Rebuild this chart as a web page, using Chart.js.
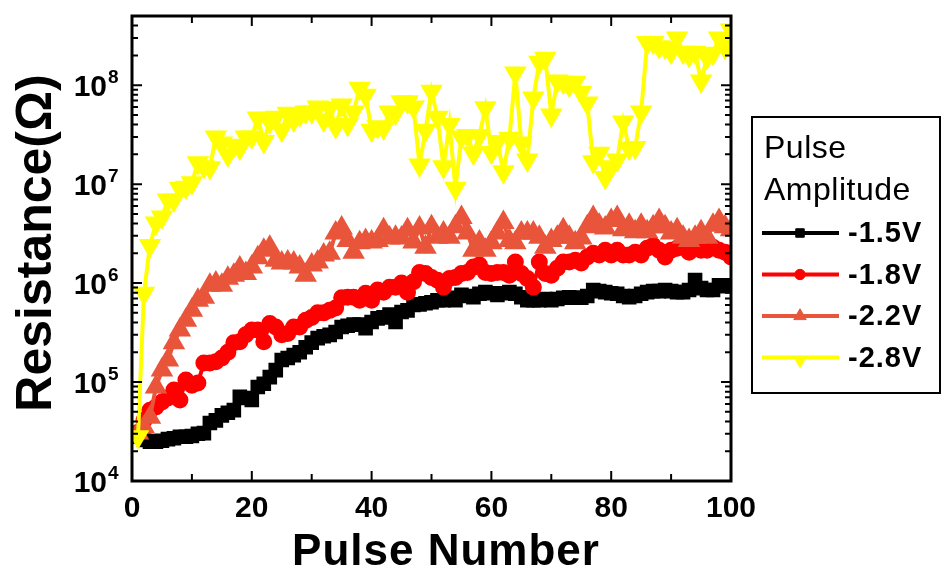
<!DOCTYPE html>
<html>
<head>
<meta charset="utf-8">
<script src="https://cdn.jsdelivr.net/npm/chart.js@4.4.1/dist/chart.umd.min.js"></script>
<style>
  html, body { margin: 0; padding: 0; background: #fff; }
</style>
</head>
<body>
<canvas id="chart" width="942" height="577"></canvas>
<script>
// pulse number (x) and resistance in ohm for each pulse amplitude
const pulses = [1,2,3,4,5,6,7,8,9,10,11,12,13,14,15,16,17,18,19,20,
  21,22,23,24,25,26,27,28,29,30,31,32,33,34,35,36,37,38,39,40,
  41,42,43,44,45,46,47,48,49,50,51,52,53,54,55,56,57,58,59,60,
  61,62,63,64,65,66,67,68,69,70,71,72,73,74,75,76,77,78,79,80,
  81,82,83,84,85,86,87,88,89,90,91,92,93,94,95,96,97,98,99,100];

const res15 = [2.8e4,2.6e4,2.5e4,2.5e4,2.55e4,2.65e4,2.7e4,2.8e4,2.8e4,2.85e4,
  3.0e4,3.05e4,3.85e4,4.1e4,4.6e4,4.9e4,5.2e4,7.1e4,6.9e4,6.6e4,
  8.9e4,9.6e4,1.12e5,1.32e5,1.67e5,1.75e5,1.87e5,2.0e5,2.25e5,2.5e5,
  2.78e5,2.9e5,3.0e5,3.2e5,3.6e5,3.7e5,3.8e5,3.8e5,3.5e5,4.05e5,
  4.4e5,4.5e5,4.8e5,4.05e5,5.1e5,5.3e5,6.0e5,6.1e5,6.25e5,6.4e5,
  6.7e5,6.7e5,7.1e5,6.7e5,7.6e5,7.4e5,7.2e5,7.8e5,8.1e5,7.9e5,
  7.6e5,7.9e5,8.1e5,7.8e5,7.2e5,6.7e5,6.7e5,6.7e5,6.9e5,6.7e5,
  6.9e5,7.1e5,7.2e5,7.1e5,7.1e5,7.4e5,8.5e5,8.3e5,8.1e5,7.9e5,
  7.8e5,7.4e5,7.2e5,7.4e5,7.8e5,8.1e5,8.3e5,8.3e5,8.5e5,8.3e5,
  8.1e5,8.1e5,8.5e5,1.07e6,8.9e5,8.5e5,8.5e5,9.5e5,9.3e5,9.5e5];

const res18 = [3.1e4,4.1e4,5.2e4,5.6e4,6.3e4,6.9e4,8.3e4,6.6e4,1.05e5,9.3e4,
  9.8e4,1.56e5,1.56e5,1.6e5,1.75e5,2.0e5,2.5e5,2.55e5,3.0e5,3.35e5,
  3.35e5,2.55e5,3.9e5,3.6e5,3.0e5,3.1e5,3.6e5,3.6e5,4.2e5,4.5e5,
  5.0e5,5.0e5,5.3e5,5.6e5,7.1e5,7.2e5,7.2e5,6.7e5,7.9e5,6.7e5,
  8.5e5,8.1e5,9.1e5,9.1e5,1.0e6,8.1e5,1.03e6,1.28e6,1.25e6,1.14e6,
  1.07e6,9.1e5,1.11e6,1.14e6,1.25e6,1.28e6,1.45e6,1.52e6,1.28e6,1.25e6,
  1.28e6,1.28e6,1.2e6,1.63e6,1.25e6,1.11e6,9.1e5,1.63e6,1.25e6,1.2e6,
  1.41e6,1.63e6,1.63e6,1.7e6,1.6e6,1.83e6,2.0e6,1.92e6,2.15e6,1.92e6,
  2.15e6,1.92e6,1.92e6,2.05e6,1.92e6,2.25e6,2.4e6,2.15e6,1.83e6,2.15e6,
  2.25e6,2.4e6,2.05e6,2.25e6,2.15e6,2.15e6,2.3e6,2.15e6,2.05e6,1.83e6];

const res22 = [3.05e4,3.5e4,4.4e4,8.9e4,1.32e5,1.67e5,2.5e5,3.35e5,4.2e5,5.3e5,
  6.7e5,7.2e5,9.5e5,1.0e6,9.5e5,1.12e6,1.2e6,1.42e6,1.25e6,1.45e6,
  1.8e6,2.15e6,2.3e6,1.7e6,1.6e6,1.63e6,1.6e6,1.45e6,1.2e6,1.52e6,
  1.63e6,1.92e6,2.0e6,3.2e6,3.6e6,2.7e6,2.05e6,2.55e6,2.7e6,2.6e6,
  2.7e6,3.45e6,2.85e6,2.9e6,2.85e6,3.45e6,2.6e6,3.6e6,2.3e6,3.7e6,
  2.9e6,3.2e6,2.9e6,3.7e6,4.6e6,3.2e6,2.15e6,2.6e6,2.15e6,2.55e6,
  3.2e6,4.1e6,2.7e6,2.55e6,3.2e6,3.2e6,3.2e6,2.9e6,2.3e6,2.7e6,
  2.9e6,3.45e6,2.9e6,2.55e6,2.85e6,3.7e6,4.6e6,3.85e6,3.6e6,4.3e6,
  4.6e6,3.45e6,3.85e6,3.3e6,3.85e6,3.3e6,3.7e6,4.3e6,3.7e6,3.2e6,
  3.45e6,2.9e6,2.7e6,2.9e6,3.3e6,2.9e6,3.85e6,4.3e6,3.7e6,3.45e6];

const res28 = [2.8e4,7.9e5,2.4e6,4.05e6,4.65e6,6.9e6,6.9e6,9.1e6,9.3e6,1.03e7,
  1.64e7,1.5e7,1.46e7,3.0e7,2.6e7,1.97e7,2.47e7,2.3e7,3.0e7,3.0e7,
  4.65e7,2.7e7,4.25e7,4.75e7,3.5e7,5.2e7,4.45e7,5.0e7,5.35e7,5.35e7,
  6.0e7,4.45e7,5.9e7,3.8e7,6.3e7,4.0e7,5.35e7,9.3e7,7.9e7,3.5e7,
  3.8e7,3.7e7,5.35e7,5.2e7,6.8e7,6.8e7,6.0e7,1.56e7,3.5e7,8.7e7,
  4.75e7,1.5e7,4.0e7,9.1e6,3.0e7,3.1e7,2.05e7,3.1e7,5.9e7,2.1e7,
  2.7e7,1.33e7,2.9e7,1.33e8,2.6e7,1.75e7,7.4e7,1.7e8,1.87e8,5.0e7,
  1.1e8,1.07e8,1.0e8,1.07e8,8.5e7,6.6e7,1.68e7,2.05e7,1.17e7,1.5e7,
  1.75e7,4.25e7,2.3e7,2.35e7,5.35e7,2.7e8,2.7e8,2.45e8,2.4e8,2.15e8,
  3.0e8,2.15e8,2.0e8,2.15e8,1.1e8,1.9e8,2.1e8,3.0e8,2.4e8,3.6e8];

const seriesNames = ['-1.5V', '-1.8V', '-2.2V', '-2.8V'];
const xTicks = [0, 20, 40, 60, 80, 100];
const xMinorTicks = [10, 30, 50, 70, 90];
const yExponents = [4, 5, 6, 7, 8];

const FONT = '"Liberation Sans", Arial, sans-serif';

function pts(values) {
  return pulses.map((p, i) => ({ x: p, y: values[i] }));
}

// frame, inward ticks, tick labels, axis titles and the legend box
const decor = {
  id: 'decor',
  afterDraw(chart) {
    const { ctx, chartArea: a } = chart;
    const x = chart.scales.x, y = chart.scales.y;
    ctx.save();
    ctx.strokeStyle = '#000';
    ctx.fillStyle = '#000';

    ctx.lineWidth = 3;
    ctx.strokeRect(a.left, a.top, a.right - a.left, a.bottom - a.top);

    ctx.lineWidth = 2;
    ctx.beginPath();
    xTicks.concat(xMinorTicks).forEach(v => {
      const px = x.getPixelForValue(v);
      const len = xTicks.includes(v) ? 10 : 7;
      ctx.moveTo(px, a.bottom); ctx.lineTo(px, a.bottom - len);
      ctx.moveTo(px, a.top); ctx.lineTo(px, a.top + len);
    });
    yExponents.forEach(e => {
      for (let m = 1; m <= 9; m++) {
        const v = m * Math.pow(10, e);
        if (v > y.max) break;
        const py = y.getPixelForValue(v);
        const len = m === 1 ? 10 : 6;
        ctx.moveTo(a.left, py); ctx.lineTo(a.left + len, py);
        ctx.moveTo(a.right, py); ctx.lineTo(a.right - len, py);
      }
    });
    ctx.stroke();

    // x tick labels
    ctx.font = 'bold 30px ' + FONT;
    ctx.textAlign = 'center';
    ctx.textBaseline = 'middle';
    xTicks.forEach(v => ctx.fillText(String(v), x.getPixelForValue(v), 509));

    // y tick labels 10^n
    yExponents.forEach(e => {
      const py = y.getPixelForValue(Math.pow(10, e));
      ctx.font = 'bold 30px ' + FONT;
      ctx.textAlign = 'right';
      ctx.fillText('10', 107, py + 3);
      ctx.font = 'bold 19px ' + FONT;
      ctx.textAlign = 'left';
      ctx.fillText(String(e), 108, py - 7);
    });

    // axis titles
    ctx.font = 'bold 44px ' + FONT;
    ctx.textAlign = 'center';
    ctx.letterSpacing = '1px';
    ctx.fillText('Pulse Number', 446, 553);
    ctx.save();
    ctx.translate(51, 243);
    ctx.rotate(-Math.PI / 2);
    ctx.textBaseline = 'alphabetic';
    ctx.font = 'bold 50px ' + FONT;
    ctx.letterSpacing = '0px';
    ctx.fillText('Resistance(\u03A9)', 0, 0);
    ctx.restore();

    // legend
    ctx.lineWidth = 2;
    ctx.strokeRect(752, 117, 188, 276);
    ctx.textAlign = 'left';
    ctx.textBaseline = 'middle';
    ctx.font = '32px ' + FONT;
    ctx.letterSpacing = '0.5px';
    ctx.fillText('Pulse', 764, 149);
    ctx.fillText('Amplitude', 764, 191);
    chart.data.datasets.forEach((ds, i) => {
      const ly = 233 + i * 41.5;
      ctx.strokeStyle = ds.borderColor;
      ctx.fillStyle = ds.backgroundColor;
      ctx.lineWidth = 4;
      ctx.beginPath();
      ctx.moveTo(762, ly); ctx.lineTo(839, ly);
      ctx.stroke();
      ctx.lineWidth = 1;
      Chart.helpers.drawPoint(ctx, {
        pointStyle: ds.pointStyle,
        radius: ds.pointRadius * 0.8,
        rotation: ds.pointRotation || 0,
        borderWidth: 1
      }, 800, ly + (ds.pointRotation ? 3 : 0));
      ctx.fillStyle = '#000';
      ctx.font = 'bold 29px ' + FONT;
      ctx.letterSpacing = '1px';
      ctx.fillText(seriesNames[i], 848, ly + 1);
    });
    ctx.restore();
  }
};

new Chart(document.getElementById('chart'), {
  type: 'line',
  data: {
    datasets: [{
      label: seriesNames[0],
      data: pts(res15),
      borderColor: '#000000',
      backgroundColor: '#000000',
      borderWidth: 4,
      pointStyle: 'rect',
      pointRadius: 7.5,
      order: 4
    }, {
      label: seriesNames[1],
      data: pts(res18),
      borderColor: '#ff0000',
      backgroundColor: '#ff0000',
      borderWidth: 4,
      pointStyle: 'circle',
      pointRadius: 6.5,
      order: 3
    }, {
      label: seriesNames[2],
      data: pts(res22),
      borderColor: '#e8553b',
      backgroundColor: '#e8553b',
      borderWidth: 4,
      pointStyle: 'triangle',
      pointRadius: 9,
      order: 2
    }, {
      label: seriesNames[3],
      data: pts(res28),
      borderColor: '#ffff00',
      backgroundColor: '#ffff00',
      borderWidth: 4,
      pointStyle: 'triangle',
      pointRotation: 180,
      pointRadius: 9,
      order: 1
    }]
  },
  options: {
    responsive: false,
    animation: false,
    devicePixelRatio: 1,
    layout: { padding: { top: 16, right: 211, left: 0, bottom: 0 } },
    elements: { line: { tension: 0 }, point: { borderWidth: 1 } },
    scales: {
      x: {
        type: 'linear', min: 0, max: 100,
        ticks: { display: false, stepSize: 10 },
        grid: { display: false },
        border: { display: false },
        afterFit(s) { s.height = 96; }
      },
      y: {
        type: 'logarithmic', min: 1e4, max: 5e8,
        ticks: { display: false },
        grid: { display: false },
        border: { display: false },
        afterFit(s) { s.width = 132; }
      }
    },
    plugins: {
      legend: { display: false },
      tooltip: { enabled: false }
    }
  },
  plugins: [decor]
});
</script>
</body>
</html>
